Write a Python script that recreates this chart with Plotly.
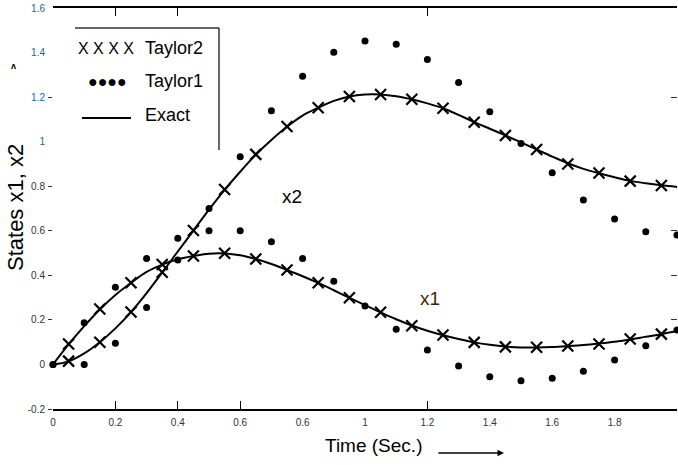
import plotly.graph_objects as go

# ---- data ----
t_dot = [0.0, 0.1, 0.2, 0.3, 0.4, 0.5, 0.6, 0.7, 0.8, 0.9, 1.0,
         1.1, 1.2, 1.3, 1.4, 1.5, 1.6, 1.7, 1.8, 1.9, 2.0]
taylor1_x1 = [0.0, 0.187, 0.346, 0.476, 0.566, 0.600, 0.600, 0.551, 0.476, 0.374, 0.262,
              0.158, 0.065, -0.007, -0.055, -0.073, -0.062, -0.030, 0.020, 0.084, 0.155]
taylor1_x2 = [0.0, 0.0, 0.095, 0.256, 0.469, 0.700, 0.932, 1.139, 1.294, 1.401, 1.452,
              1.437, 1.369, 1.266, 1.134, 0.992, 0.860, 0.738, 0.653, 0.596, 0.581]

t_x = [0.05, 0.15, 0.25, 0.35, 0.45, 0.55, 0.65, 0.75, 0.85, 0.95,
       1.05, 1.15, 1.25, 1.35, 1.45, 1.55, 1.65, 1.75, 1.85, 1.95]
taylor2_x1 = [0.092, 0.249, 0.367, 0.449, 0.487, 0.499, 0.473, 0.424, 0.367, 0.299,
              0.234, 0.174, 0.132, 0.099, 0.079, 0.077, 0.083, 0.092, 0.114, 0.136]
taylor2_x2 = [0.015, 0.100, 0.235, 0.414, 0.601, 0.785, 0.943, 1.068, 1.152, 1.203,
              1.212, 1.190, 1.150, 1.087, 1.028, 0.965, 0.900, 0.859, 0.823, 0.803]

t_exact = [0.0, 0.05, 0.1, 0.15, 0.2, 0.25, 0.3, 0.35, 0.4, 0.45, 0.5, 0.55, 0.6, 0.65,
           0.7, 0.75, 0.8, 0.85, 0.9, 0.95, 1.0, 1.05, 1.1, 1.15, 1.2, 1.25, 1.3, 1.35,
           1.4, 1.45, 1.5, 1.55, 1.6, 1.65, 1.7, 1.75, 1.8, 1.85, 1.9, 1.95, 2.0]
exact_x1 = [0.0, 0.090, 0.172, 0.247, 0.312, 0.366, 0.415, 0.448, 0.472, 0.487, 0.497, 0.498,
            0.490, 0.473, 0.451, 0.424, 0.396, 0.366, 0.333, 0.299, 0.266, 0.234, 0.203,
            0.175, 0.151, 0.131, 0.114, 0.099, 0.088, 0.080, 0.076, 0.076, 0.078, 0.082,
            0.087, 0.094, 0.102, 0.112, 0.124, 0.136, 0.150]
exact_x2 = [0.0, 0.014, 0.050, 0.100, 0.162, 0.235, 0.320, 0.413, 0.507, 0.601, 0.695, 0.784,
            0.865, 0.942, 1.008, 1.067, 1.117, 1.152, 1.183, 1.203, 1.212, 1.212, 1.204,
            1.190, 1.172, 1.150, 1.120, 1.088, 1.058, 1.028, 0.997, 0.965, 0.933, 0.903,
            0.878, 0.858, 0.840, 0.824, 0.813, 0.804, 0.797]

x_ticks = [0, 0.2, 0.4, 0.6, 0.8, 1, 1.2, 1.4, 1.6, 1.8, 2]
x_ticklabels = ["0", "0.2", "0.4", "0.6", "0.6", "1", "1.2", "1.4", "1.6", "1.8", "2"]
y_ticks = [-0.2, 0, 0.2, 0.4, 0.6, 0.8, 1, 1.2, 1.4, 1.6]
y_ticklabels = ["-0.2", "0", "0.2", "0.4", "0.6", "0.8", "1", "1.2", "1.4", "1.6"]
y_blue = [1, 1.2, 1.4, 1.6]

W, H = 678, 465
L, R, T, B = 53, 1, 8, 56
pw, ph = W - L - R, H - T - B

def px(xp):
    return (xp - L) / pw

def py(yp):
    return (H - B - yp) / ph

fig = go.Figure()
line = dict(color="black", width=2)
fig.add_trace(go.Scatter(x=t_exact, y=exact_x1, mode="lines", line=dict(shape="spline", **line),
                         showlegend=False, hoverinfo="skip"))
fig.add_trace(go.Scatter(x=t_exact, y=exact_x2, mode="lines", line=dict(shape="spline", **line),
                         showlegend=False, hoverinfo="skip"))
for ys in (taylor2_x1, taylor2_x2):
    fig.add_trace(go.Scatter(x=t_x, y=ys, mode="markers", showlegend=False,
                             marker=dict(symbol="x-thin", size=11, line=dict(color="black", width=2.2))))
for ys in (taylor1_x1, taylor1_x2):
    fig.add_trace(go.Scatter(x=t_dot, y=ys, mode="markers", showlegend=False, cliponaxis=False,
                             marker=dict(symbol="circle", size=7, color="black")))

tickfont = dict(family="Arial, Liberation Sans, sans-serif", size=10, color="#333333")
ytext = [f'<span style="color:#1f5fb0">{lab}</span>' if v in y_blue else lab
         for v, lab in zip(y_ticks, y_ticklabels)]

common = dict(showgrid=False, zeroline=False, automargin=False)
fig.update_layout(
    width=W, height=H, margin=dict(l=L, r=R, t=T, b=B, autoexpand=False),
    paper_bgcolor="white", plot_bgcolor="white", showlegend=False,
    xaxis=dict(range=[0, 2], tickvals=x_ticks, ticktext=x_ticklabels, ticks="",
               showline=True, mirror=True, linecolor="black", linewidth=1.5,
               tickfont=tickfont, ticklabelstandoff=3, **common),
    yaxis=dict(range=[-0.2, 1.6], tickvals=y_ticks, ticktext=ytext, ticks="",
               showline=False, tickfont=tickfont, ticklabelstandoff=7, **common),
    xaxis2=dict(overlaying="x", anchor="y", side="bottom", range=[0, 2], matches="x",
                tickvals=[0.2, 0.4, 0.6, 1.2], ticks="inside", ticklen=8, tickwidth=1.2,
                tickcolor="black", showticklabels=False, **common),
    xaxis3=dict(overlaying="x", anchor="y", side="top", range=[0, 2], matches="x",
                tickvals=[0.2, 0.4, 1.2], ticks="inside", ticklen=8, tickwidth=1.2,
                tickcolor="black", showticklabels=False, **common),
    yaxis2=dict(overlaying="y", anchor="x", side="left", range=[-0.2, 1.6], matches="y",
                tickvals=[-0.2, 0.2, 0.4, 0.6, 0.8, 1.2], ticks="outside", ticklen=4,
                tickcolor="#333333", showticklabels=False, **common),
    yaxis3=dict(overlaying="y", anchor="x", side="right", range=[-0.2, 1.6], matches="y",
                tickvals=[0.2, 0.4, 0.6, 1.2], ticks="inside", ticklen=6,
                tickcolor="#333333", showticklabels=False, **common),
)
# dummy traces so the overlay axes are drawn
fig.add_trace(go.Scatter(x=[None], y=[None], xaxis="x2", yaxis="y2", showlegend=False))
fig.add_trace(go.Scatter(x=[None], y=[None], xaxis="x3", yaxis="y3", showlegend=False))

font = "Arial, Liberation Sans, sans-serif"

def note(text, x, y, size=19, color="black", xanchor="center", fam=font, **kw):
    return dict(text=text, xref="paper", yref="paper", x=px(x), y=py(y), xanchor=xanchor,
                yanchor="middle", showarrow=False, font=dict(family=fam, size=size, color=color), **kw)

ann = [
    note("States x1, x2", 15, 208, size=22, textangle=-90),
    note("Time (Sec.)", 374, 446, size=19),
    dict(text="", xref="paper", yref="paper", x=px(504), y=py(453),
         ax=-67, ay=0, showarrow=True, arrowhead=2, arrowsize=1, arrowwidth=1.3,
         arrowcolor="black"),
    note("<b>ʌ</b>", 13, 66, size=9),
    # curve labels
    dict(text="x2", x=0.766, y=0.756, showarrow=False, xanchor="center", yanchor="middle",
         font=dict(family=font, size=19, color="black")),
    dict(text="x1", x=1.208, y=0.298, showarrow=False, xanchor="center", yanchor="middle",
         font=dict(family=font, size=19, color="#3a2808")),
    # custom legend
    note("X X X X", 106, 48, size=16),
    note("Taylor2", 143, 48, size=18, xanchor="left"),
    note("●●●●", 107, 81, size=16),
    note("Taylor1", 143, 81, size=18, xanchor="left"),
    note("Exact", 143, 115, size=18, xanchor="left"),
]
fig.update_layout(annotations=ann)

shapes = [
    dict(type="line", xref="paper", yref="paper", x0=px(75), x1=px(219), y0=py(28), y1=py(28),
         line=dict(color="#333333", width=1.5)),
    dict(type="line", xref="paper", yref="paper", x0=px(219), x1=px(219), y0=py(28), y1=py(150),
         line=dict(color="#333333", width=1.5)),
    dict(type="line", xref="paper", yref="paper", x0=px(82), x1=px(131), y0=py(118), y1=py(118),
         line=dict(color="black", width=2)),
]
fig.update_layout(shapes=shapes)

fig.write_html("out.html", config={"displayModeBar": False},
               post_script="document.body.style.margin='0';")
